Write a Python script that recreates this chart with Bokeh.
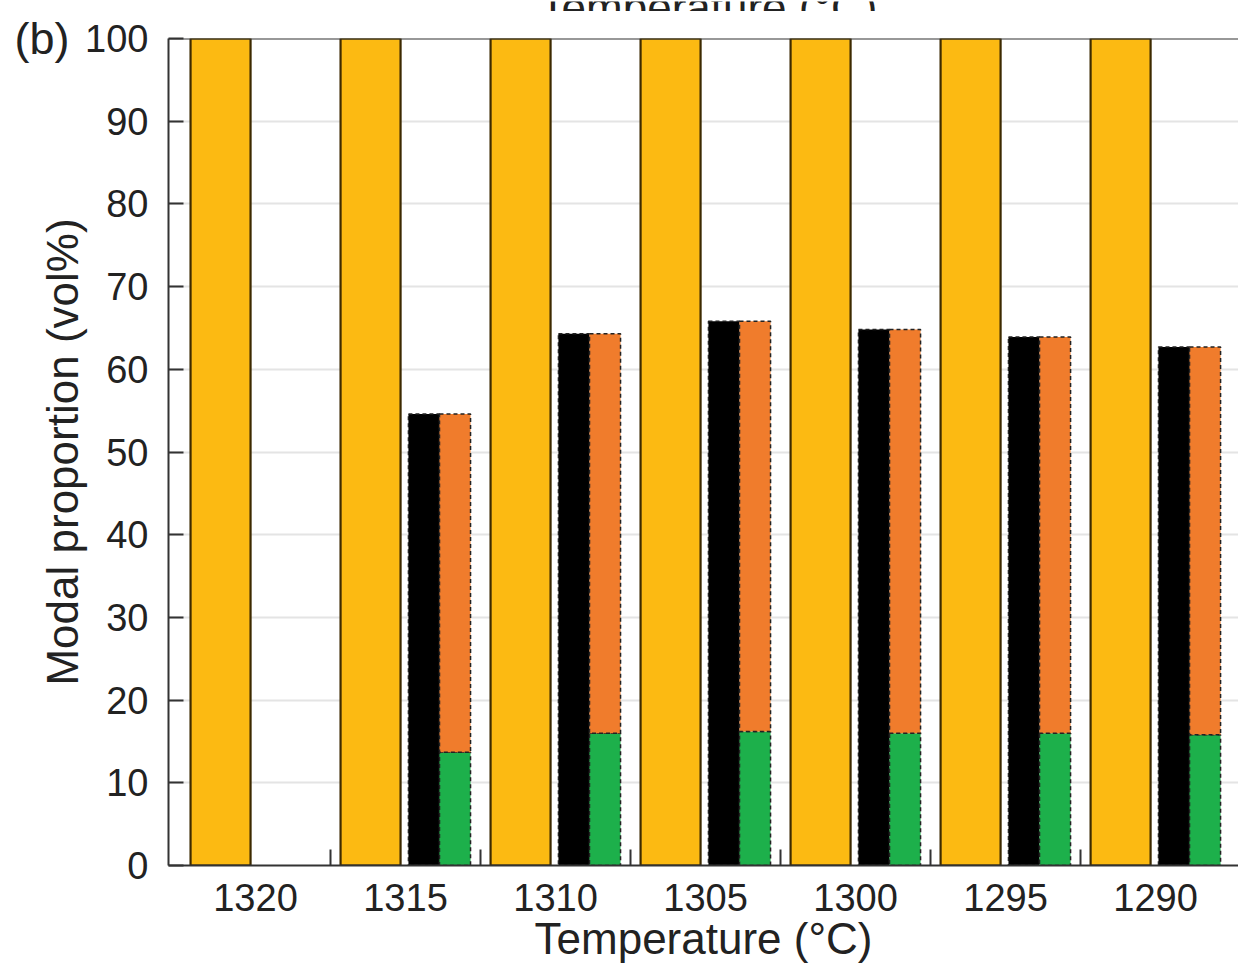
from bokeh.plotting import figure
from bokeh.models import FixedTicker, ColumnDataSource, Span, LinearAxis
from bokeh.layouts import column
from bokeh.transform import dodge
from bokeh.core.properties import value
from bokeh.embed import file_html
from bokeh.resources import INLINE

# ---- data ----
temperatures = ["1320", "1315", "1310", "1305", "1300", "1295", "1290"]
bulk_total = [100, 100, 100, 100, 100, 100, 100]          # yellow bars
crystal_total = [0, 54.6, 64.3, 65.8, 64.8, 63.9, 62.7]   # black bars / top of stacked bars
green_part = [0, 13.7, 16.0, 16.2, 16.0, 16.0, 15.8]      # green (lower) part of stacked bars
y_ticks = [0, 10, 20, 30, 40, 50, 60, 70, 80, 90, 100]
panel_letter = "(b)"
x_title = "Temperature (°C)"
y_title = "Modal proportion (vol%)"

FONT = "Liberation Sans"
YELLOW = "#FCBA12"
ORANGE = "#F07C2C"
GREEN = "#1DB04B"
AXIS = "#333333"
TEXT = "#222222"

xs = list(range(len(temperatures)))
src_all = ColumnDataSource(dict(x=xs, total=bulk_total))
keep = [i for i, v in enumerate(crystal_total) if v > 0]
src = ColumnDataSource(dict(
    x=[xs[i] for i in keep],
    crystal=[crystal_total[i] for i in keep],
    green=[green_part[i] for i in keep],
))

p = figure(width=1238, height=954, x_range=(-0.58, 6.553), y_range=(0, 100),
           output_backend="svg", toolbar_location=None,
           min_border_left=168, min_border_right=0, min_border_top=27, min_border_bottom=100)
p.outline_line_color = None
p.background_fill_color = "white"
p.border_fill_color = "white"

# strip above: the cut-off axis title of the panel above (clipped by its own frame)
top = figure(width=1238, height=11, x_range=p.x_range, y_range=(0, 11),
             output_backend="svg", toolbar_location=None, x_axis_type=None, y_axis_type=None,
             min_border=0, min_border_left=0, min_border_right=0, min_border_top=0, min_border_bottom=0)
top.outline_line_color = None
top.grid.grid_line_color = None
top_src = ColumnDataSource(dict(x=[3.02], y=[5], t=[x_title]))
top.text(x="x", y="y", text="t", source=top_src, text_font=value(FONT), text_font_size="44px",
         text_color=TEXT, text_align="center", text_baseline="alphabetic")

# grid
p.xgrid.grid_line_color = None
p.ygrid.grid_line_color = "#e4e4e4"
p.ygrid.grid_line_width = 2

# bars
p.vbar(x=dodge("x", -0.233, range=p.x_range), top="total", bottom=0, width=0.4, source=src_all,
       fill_color=YELLOW, line_color="#3d2a00", line_width=2.2)
p.vbar(x=dodge("x", 0.123, range=p.x_range), top="crystal", bottom=0, width=0.207, source=src,
       fill_color="black", line_color="#222222", line_width=1.5, line_dash="4 3")
p.vbar(x=dodge("x", 0.33, range=p.x_range), top="green", bottom=0, width=0.207, source=src,
       fill_color=GREEN, line_color="#222222", line_width=1.5, line_dash="4 3")
p.vbar(x=dodge("x", 0.33, range=p.x_range), top="crystal", bottom="green", width=0.207, source=src,
       fill_color=ORANGE, line_color="#222222", line_width=1.5, line_dash="4 3")

# top border of the frame
p.add_layout(Span(location=100, dimension="width", line_color=AXIS, line_width=2))

# x axis
p.xaxis.ticker = FixedTicker(ticks=xs, minor_ticks=[i + 0.5 for i in xs[:-1]])
p.xaxis.major_label_overrides = {i: t for i, t in zip(xs, temperatures)}
p.xaxis.major_tick_line_color = None
p.xaxis.minor_tick_in = 16
p.xaxis.minor_tick_out = 0
p.xaxis.minor_tick_line_color = AXIS
p.xaxis.minor_tick_line_width = 2
p.xaxis.axis_label = x_title
p.xaxis.major_label_standoff = 12
p.xaxis.axis_label_standoff = 0

# y axis
p.yaxis.ticker = FixedTicker(ticks=y_ticks, minor_ticks=[])
p.yaxis.major_tick_in = 15
p.yaxis.major_tick_out = 0
p.yaxis.major_tick_line_color = AXIS
p.yaxis.major_tick_line_width = 2
p.yaxis.minor_tick_line_color = None
p.yaxis.axis_label = y_title
p.yaxis.major_label_standoff = 20
p.yaxis.axis_label_standoff = -5

for ax in (p.xaxis[0], p.yaxis[0]):
    ax.axis_line_color = AXIS
    ax.axis_line_width = 2
    ax.major_label_text_font = FONT
    ax.major_label_text_font_size = "38px"
    ax.major_label_text_color = TEXT
    ax.axis_label_text_font = FONT
    ax.axis_label_text_font_size = "44px"
    ax.axis_label_text_font_style = "normal"
    ax.axis_label_text_color = TEXT

# panel letter "(b)" beside the top tick label, as the label of an extra bare axis
letter_axis = LinearAxis(ticker=FixedTicker(ticks=[y_ticks[-1]], minor_ticks=[]),
                         major_label_overrides={y_ticks[-1]: panel_letter},
                         axis_line_color=None, major_tick_line_color=None,
                         minor_tick_line_color=None, major_tick_out=0, major_tick_in=0,
                         major_label_standoff=-34,
                         major_label_text_font=FONT, major_label_text_font_size="45px",
                         major_label_text_color=TEXT)
p.add_layout(letter_axis, "left")

layout = column(top, p, spacing=0)
open("out.html", "w").write(file_html(layout, INLINE))
